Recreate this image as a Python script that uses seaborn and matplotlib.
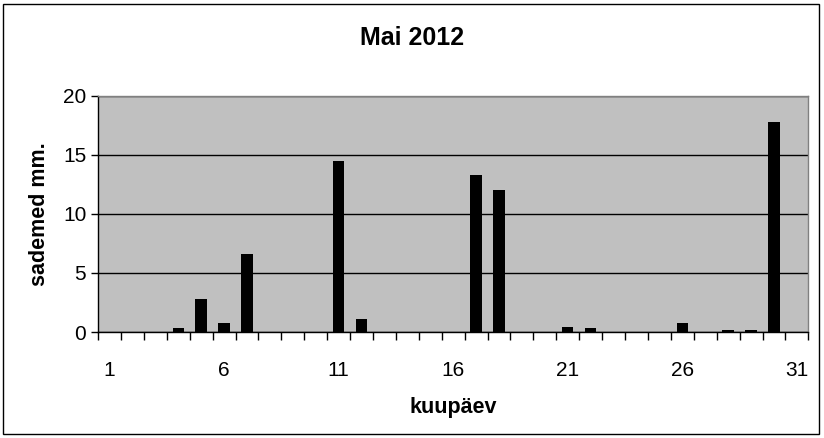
import pandas as pd
import matplotlib.pyplot as plt
import seaborn as sns
from matplotlib.patches import Rectangle

# rainfall per day, May 2012
days = list(range(1, 32))
rain = [0, 0, 0, 0.35, 2.8, 0.8, 6.6, 0, 0, 0,
        14.5, 1.1, 0, 0, 0, 0, 13.3, 12.0, 0, 0,
        0.45, 0.35, 0, 0, 0, 0.8, 0, 0.2, 0.2, 17.8,
        0]
tick_days = [1, 6, 11, 16, 21, 26, 31]

df = pd.DataFrame({"day": days, "rain": rain})

sns.set_style("white")
plt.rcParams['font.family'] = ['Liberation Sans', 'DejaVu Sans']
plt.rcParams['text.color'] = 'black'
plt.rcParams['axes.labelcolor'] = 'black'
plt.rcParams['xtick.color'] = 'black'
plt.rcParams['ytick.color'] = 'black'

fig = plt.figure(figsize=(8.24, 4.38), dpi=100)
ax = fig.add_axes([0.119, 0.242, 0.862, 0.539])

sns.barplot(data=df, x="day", y="rain", color="black", width=0.5,
            saturation=1, ax=ax, zorder=3, edgecolor="black", linewidth=0)

ax.set_facecolor("#c0c0c0")
ax.set_ylim(0, 20)
ax.set_xlim(-0.5, 30.5)
ax.set_yticks([0, 5, 10, 15, 20])
ax.yaxis.grid(True, color="black", linewidth=1, zorder=1)
ax.set_axisbelow(True)

# labels under selected days, tick marks between days
ax.set_xticks([d - 1 for d in tick_days])
ax.set_xticklabels([str(d) for d in tick_days])
ax.set_xticks([i - 0.5 for i in range(32)], minor=True)
ax.tick_params(axis="x", which="major", length=0, pad=21, labelsize=15,
               bottom=True)
ax.tick_params(axis="x", which="minor", length=6, width=1, color="black",
               direction="out", bottom=True)
ax.tick_params(axis="y", length=5, width=1, color="black", direction="out",
               labelsize=15, left=True)

for s in ["top", "right"]:
    ax.spines[s].set_color("#808080")
for s in ["left", "bottom"]:
    ax.spines[s].set_color("black")
for s in ax.spines.values():
    s.set_linewidth(1)

ax.set_xlabel("kuupäev", fontsize=15.5, fontweight="bold", labelpad=12)
ax.set_ylabel("sademed mm.", fontsize=15.5, fontweight="bold", labelpad=9)
fig.suptitle("Mai 2012", fontsize=18, fontweight="bold", y=0.94)

fig.patches.append(Rectangle((0.004, 0.009), 0.99, 0.983, transform=fig.transFigure,
                             fill=False, edgecolor="black", linewidth=1))

plt.savefig("out.png", dpi=100)
